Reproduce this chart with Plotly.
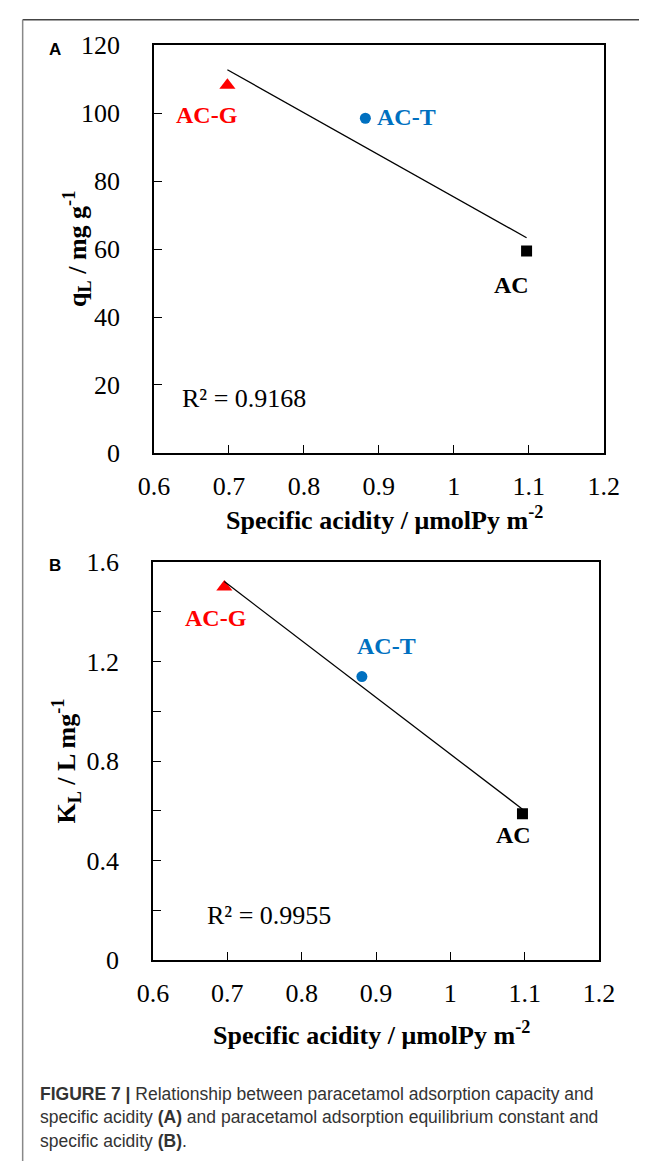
import numpy as np
import plotly.graph_objects as go

W, H = 655, 1176

# ---------------- data ----------------
samples = ["AC-G", "AC-T", "AC"]
colors = ["#FF0000", "#0070C0", "#000000"]
symbols = ["triangle-up", "circle", "square"]

acidity_A = [0.698, 0.882, 1.097]
qL = [108.2, 98.5, 59.4]

acidity_B = [0.696, 0.881, 1.097]
KL = [1.50, 1.14, 0.588]

r2_A = "R² = 0.9168"
r2_B = "R² = 0.9955"

x_ticks = [0.6, 0.7, 0.8, 0.9, 1.0, 1.1, 1.2]
x_ticktext = ["0.6", "0.7", "0.8", "0.9", "1", "1.1", "1.2"]
yA_ticks = [0, 20, 40, 60, 80, 100, 120]
yA_ticktext = ["0", "20", "40", "60", "80", "100", "120"]
yB_ticks = [0, 0.4, 0.8, 1.2, 1.6]
yB_ticktext = ["0", "0.4", "0.8", "1.2", "1.6"]

caption_lines = [
    "<b>FIGURE 7 |</b> Relationship between paracetamol adsorption capacity and",
    "specific acidity <b>(A)</b> and paracetamol adsorption equilibrium constant and",
    "specific acidity <b>(B)</b>.",
]

# ---------------- layout helpers (pixel -> paper) ----------------
def px(x):
    return x / W

def py(y):
    return 1 - y / H

SERIF = "Liberation Serif, Times New Roman, serif"
SANS = "Liberation Sans, Arial, sans-serif"

fig = go.Figure()

def add_panel(xs, ys, xa, ya):
    for i, s in enumerate(samples):
        fig.add_trace(go.Scatter(
            x=[xs[i]], y=[ys[i]], mode="markers", name=s, showlegend=False,
            marker=dict(symbol=symbols[i], color=colors[i], size=14 if i == 0 else 11,
                        line=dict(width=0)),
            xaxis=xa, yaxis=ya))
    # linear least-squares trendline over data range
    k, b = np.polyfit(xs, ys, 1)
    xl = [min(xs), max(xs)]
    fig.add_trace(go.Scatter(
        x=xl, y=[k * v + b for v in xl], mode="lines", showlegend=False,
        line=dict(color="black", width=1.3), xaxis=xa, yaxis=ya))

add_panel(acidity_A, qL, "x", "y")
add_panel(acidity_B, KL, "x2", "y2")

axis_common = dict(
    showline=True, linewidth=1.6, linecolor="black", mirror=True,
    ticks="inside", ticklen=8, tickwidth=1.4, tickcolor="black",
    showgrid=False, zeroline=False,
    tickfont=dict(family=SERIF, size=26, color="black"),
)

fig.update_layout(
    width=W, height=H, autosize=False,
    margin=dict(l=0, r=0, t=0, b=0),
    paper_bgcolor="white", plot_bgcolor="white",
    xaxis=dict(domain=[px(145), px(618)], range=[0.6, 1.2], anchor="y",
               tickmode="array", tickvals=x_ticks, ticktext=x_ticktext,
               ticklabelstandoff=9, **axis_common),
    yaxis=dict(domain=[py(450), py(32)], range=[0, 120], anchor="x",
               tickmode="array", tickvals=yA_ticks, ticktext=yA_ticktext,
               ticklabelstandoff=27, **axis_common),
    xaxis2=dict(domain=[px(144), px(613)], range=[0.6, 1.2], anchor="y2",
                tickmode="array", tickvals=x_ticks, ticktext=x_ticktext,
                ticklabelstandoff=9, **axis_common),
    yaxis2=dict(domain=[py(970), py(562)], range=[0, 1.6], anchor="x2",
                tickmode="array", tickvals=yB_ticks, ticktext=yB_ticktext,
                ticklabelstandoff=27,
                minor=dict(dtick=0.2, tick0=0, ticks="inside", ticklen=8,
                           tickwidth=1.4, tickcolor="black", showgrid=False),
                **axis_common),
)

ann = []

def text(x, y, t, size=26, color="black", family=SERIF, xanchor="center",
         yanchor="middle", angle=0):
    ann.append(dict(x=px(x), y=py(y), xref="paper", yref="paper", text=t,
                    showarrow=False, xanchor=xanchor, yanchor=yanchor,
                    textangle=angle,
                    font=dict(family=family, size=size, color=color)))

# axis titles
text(387, 517, "<b>Specific acidity / μmolPy m<sup>-2</sup></b>", size=26)
text(374, 1045, "<b>Specific acidity / μmolPy m<sup>-2</sup></b>", size=26)
text(64, 241, "<b>q<sub>L</sub> / mg g<sup>-1</sup></b>", size=26, angle=-90)
text(53, 766, "<b>K<sub>L</sub> / L mg<sup>-1</sup></b>", size=26, angle=-90)

# point labels
labA = [(201, 104), (411, 106), (521, 278)]
labB = [(210, 619), (390, 648), (523, 842)]
for (x, y), s, c in zip(labA, samples, colors):
    text(x, y, "<b>%s</b>" % s, size=24, color=c)
for (x, y), s, c in zip(labB, samples, colors):
    text(x, y, "<b>%s</b>" % s, size=24, color=c)

# R² annotations
text(172, 394, r2_A, size=26, xanchor="left")
text(199, 924, r2_B, size=26, xanchor="left")

# panel letters
text(41, 36, "<b>A</b>", size=17, family=SANS)
text(41, 565, "<b>B</b>", size=17, family=SANS)

# caption
for i, line in enumerate(caption_lines):
    text(23, 1107 + 24 * i, line, size=17.5, color="#333333", family=SANS,
         xanchor="left")

fig.update_layout(annotations=ann)

# outer frame (top + left)
fig.add_shape(type="line", xref="paper", yref="paper",
              x0=px(7), x1=1, y0=py(6), y1=py(6),
              line=dict(color="#444444", width=1.5))
fig.add_shape(type="line", xref="paper", yref="paper",
              x0=px(7), x1=px(7), y0=py(6), y1=0,
              line=dict(color="#888888", width=1.5))

fig.write_html(
    "out.html",
    config={"displayModeBar": False},
    post_script="document.body.style.margin='0';document.body.style.overflow='hidden';",
)
